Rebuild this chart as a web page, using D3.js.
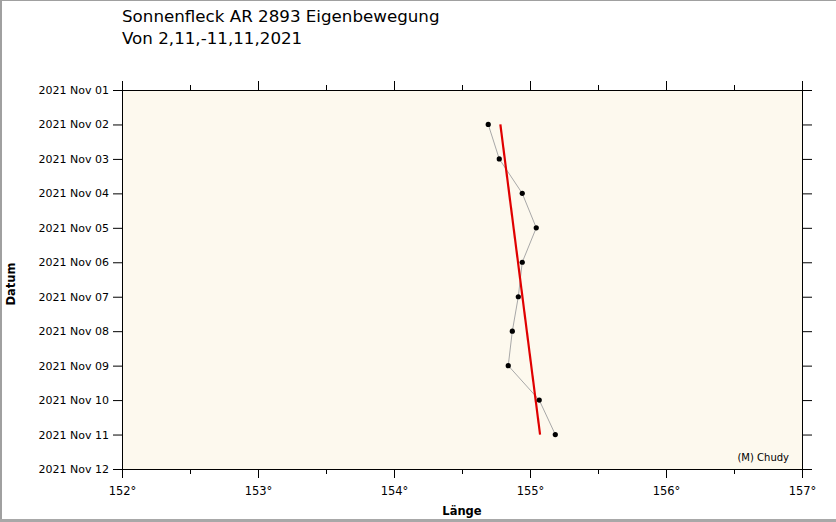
<!DOCTYPE html>
<html>
<head>
<meta charset="utf-8">
<script src="https://cdn.jsdelivr.net/npm/d3@7"></script>
<style>
html,body{margin:0;padding:0;background:#fff;}
svg{display:block;}
text{font-family:"DejaVu Sans",Verdana,sans-serif;fill:#000;}
</style>
</head>
<body>
<script>
// ---- data ----
const dates = ["2021-11-02","2021-11-03","2021-11-04","2021-11-05","2021-11-06","2021-11-07","2021-11-08","2021-11-09","2021-11-10","2021-11-11"];
const longitudes = [154.693,154.774,154.943,155.046,154.943,154.914,154.870,154.840,155.068,155.186];
const trendDates = ["2021-11-02","2021-11-11"];
const trendLongitudes = [154.782,155.074];
const xTicks = [152,153,154,155,156,157];
const xDomain = [152,157];
const yDomain = ["2021-11-01","2021-11-12"];
const titleLines = ["Sonnenfleck AR 2893 Eigenbewegung","Von 2,11,-11,11,2021"];
const xLabel = "Länge";
const yLabel = "Datum";
const credit = "(M) Chudy";

const W=836,H=522;
const m={l:122,r:802,t:90,b:469};
const parse=d3.utcParse("%Y-%m-%d");

const svg=d3.select("body").append("svg").attr("width",W).attr("height",H);

// outer frame
svg.append("line").attr("x1",0).attr("x2",W).attr("y1",0.5).attr("y2",0.5).attr("stroke","#a0a0a0");
svg.append("line").attr("x1",1).attr("x2",1).attr("y1",0).attr("y2",H).attr("stroke","#a0a0a0").attr("stroke-width",2);
svg.append("line").attr("x1",0).attr("x2",W).attr("y1",520.5).attr("y2",520.5).attr("stroke","#a8a8a8").attr("stroke-width",3);

const x=d3.scaleLinear().domain(xDomain).range([m.l,m.r]);
const y=d3.scaleUtc().domain(yDomain.map(parse)).range([m.t,m.b]);

svg.append("rect").attr("x",m.l).attr("y",m.t).attr("width",m.r-m.l).attr("height",m.b-m.t).attr("fill","#fdf9ee");

const days=d3.utcDay.range(parse(yDomain[0]),d3.utcDay.offset(parse(yDomain[1]),1));
const fmt=d3.utcFormat("%Y %b %d");
const minorX=d3.range(xDomain[0]+0.5,xDomain[1],1);

function styleAxis(g){
  g.select(".domain").remove();
  g.selectAll("line").attr("stroke","#000");
  g.selectAll("text").style("font-family","\"DejaVu Sans\",Verdana,sans-serif");
}
// left axis
svg.append("g").attr("transform",`translate(${m.l},0)`)
  .call(d3.axisLeft(y).tickValues(days).tickFormat(fmt).tickSize(9).tickPadding(4))
  .call(styleAxis).selectAll("text").attr("font-size",11);
// right axis
svg.append("g").attr("transform",`translate(${m.r},0)`)
  .call(d3.axisRight(y).tickValues(days).tickFormat("").tickSize(10))
  .call(styleAxis);
// bottom axis
svg.append("g").attr("transform",`translate(0,${m.b})`)
  .call(d3.axisBottom(x).tickValues(xTicks).tickFormat(d=>d+"°").tickSize(9).tickPadding(9))
  .call(styleAxis).selectAll("text").attr("font-size",11.5);
svg.append("g").attr("transform",`translate(0,${m.b})`)
  .call(d3.axisBottom(x).tickValues(minorX).tickFormat("").tickSize(5))
  .call(styleAxis);
// top axis
svg.append("g").attr("transform",`translate(0,${m.t})`)
  .call(d3.axisTop(x).tickValues(xTicks).tickFormat("").tickSize(9))
  .call(styleAxis);
svg.append("g").attr("transform",`translate(0,${m.t})`)
  .call(d3.axisTop(x).tickValues(minorX).tickFormat("").tickSize(5))
  .call(styleAxis);
// axis lines (extended)
const ax=svg.append("g").attr("stroke","#000").attr("stroke-width",1);
ax.append("line").attr("x1",m.l-9).attr("x2",m.r+10).attr("y1",m.t+0.5).attr("y2",m.t+0.5);
ax.append("line").attr("x1",m.l-9).attr("x2",m.r+10).attr("y1",m.b+0.5).attr("y2",m.b+0.5);
ax.append("line").attr("x1",m.l+0.5).attr("x2",m.l+0.5).attr("y1",m.t-9).attr("y2",m.b+9);
ax.append("line").attr("x1",m.r+0.5).attr("x2",m.r+0.5).attr("y1",m.t-9).attr("y2",m.b+9);

// data
const pts=dates.map((d,i)=>({d:parse(d),v:longitudes[i]}));
svg.append("path").datum(pts)
  .attr("d",d3.line().x(p=>x(p.v)).y(p=>y(p.d)))
  .attr("fill","none").attr("stroke","#a8a8a8").attr("stroke-width",1);
const tr=trendDates.map((d,i)=>({d:parse(d),v:trendLongitudes[i]}));
svg.append("path").datum(tr)
  .attr("d",d3.line().x(p=>x(p.v)).y(p=>y(p.d)))
  .attr("fill","none").attr("stroke","#e00000").attr("stroke-width",2.2);
svg.selectAll("circle.pt").data(pts).join("circle").attr("class","pt")
  .attr("cx",p=>x(p.v)).attr("cy",p=>y(p.d)).attr("r",2.6).attr("fill","#000");

// texts
svg.append("text").attr("x",122).attr("y",22).attr("font-size",16.7).text(titleLines[0]);
svg.append("text").attr("x",122).attr("y",44).attr("font-size",16.7).text(titleLines[1]);
svg.append("text").attr("x",(m.l+m.r)/2).attr("y",515).attr("text-anchor","middle")
  .attr("font-size",11.5).attr("font-weight","bold").text(xLabel);
svg.append("text").attr("transform","translate(15,284) rotate(-90)").attr("text-anchor","middle")
  .attr("font-size",11.5).attr("font-weight","bold").text(yLabel);
svg.append("text").attr("x",789).attr("y",461).attr("text-anchor","end").attr("font-size",10).text(credit);
</script>
</body>
</html>
